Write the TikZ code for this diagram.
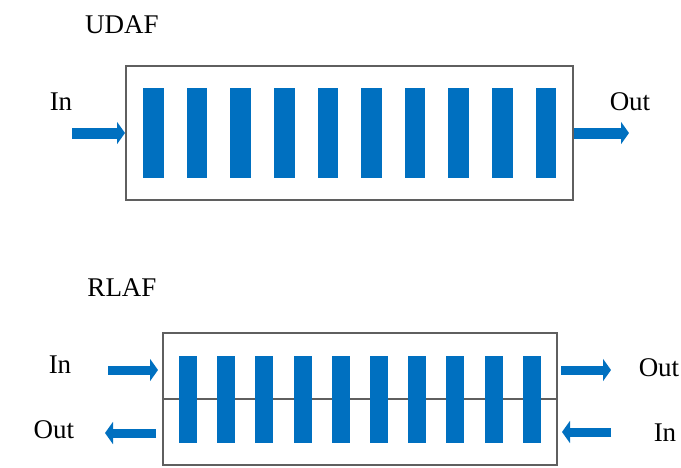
\documentclass[tikz,border=0pt]{standalone}
\usepackage{fontspec}
\setmainfont{Liberation Serif}
\usetikzlibrary{arrows.meta}
\definecolor{plateblue}{RGB}{0,112,192}
\definecolor{tankgray}{RGB}{95,95,95}
\tikzset{
  tank/.style={draw=tankgray,line width=2pt,inner sep=0pt,fill=white},
  plate/.style={fill=plateblue,inner sep=0pt},
  flow/.style={plateblue,line width=11pt,-{Triangle[length=8pt,width=22pt]}},
  lbl/.style={font=\fontsize{27}{32}\selectfont,inner sep=0pt}
}
\begin{document}
\begin{tikzpicture}[x=1pt,y=-1pt]
  \useasboundingbox(0,0)rectangle(681,467);
  % UDAF
  \node[lbl](udafname)at(122,25){UDAF};
  \node[tank,minimum width=447pt,minimum height=134pt](udaf)at(349.5,133){};
  \foreach \n in{0,...,9}{%
    \node[plate,minimum width=20.5pt,minimum height=90pt](u\n)at({153.5+43.6*\n},133){};
  }
  \node[lbl](uin)at(61,102){In};
  \node[lbl](uout)at(630,102){Out};
  \coordinate(uinstart)at(72,133);
  \coordinate(uoutend)at(629,133);
  \draw[flow](uinstart)--(udaf.west);
  \draw[flow](udaf.east)--(uoutend);
  % RLAF
  \node[lbl](rlafname)at(122,288){RLAF};
  \node[tank,minimum width=394pt,minimum height=132pt](rlaf)at(360,399){};
  \draw[tankgray,line width=2.5pt](rlaf.west)--(rlaf.east);
  \foreach \n in{0,...,9}{%
    \node[plate,minimum width=18pt,minimum height=87pt](r\n)at({188+38.2*\n},399.5){};
  }
  \node[lbl](rin)at(60,365){In};
  \node[lbl](rout)at(54,430){Out};
  \node[lbl](rout2)at(659,368){Out};
  \node[lbl](rin2)at(665,433){In};
  \coordinate(a1)at(108,370);
  \coordinate(a2)at(158,370);
  \coordinate(b1)at(156,433);
  \coordinate(b2)at(105,433);
  \coordinate(c1)at(561,370);
  \coordinate(c2)at(611,370);
  \coordinate(d1)at(611,432);
  \coordinate(d2)at(562,432);
  \draw[flow,line width=9pt](a1)--(a2);
  \draw[flow,line width=9pt](b1)--(b2);
  \draw[flow,line width=9pt](c1)--(c2);
  \draw[flow,line width=9pt](d1)--(d2);
\end{tikzpicture}
\end{document}
